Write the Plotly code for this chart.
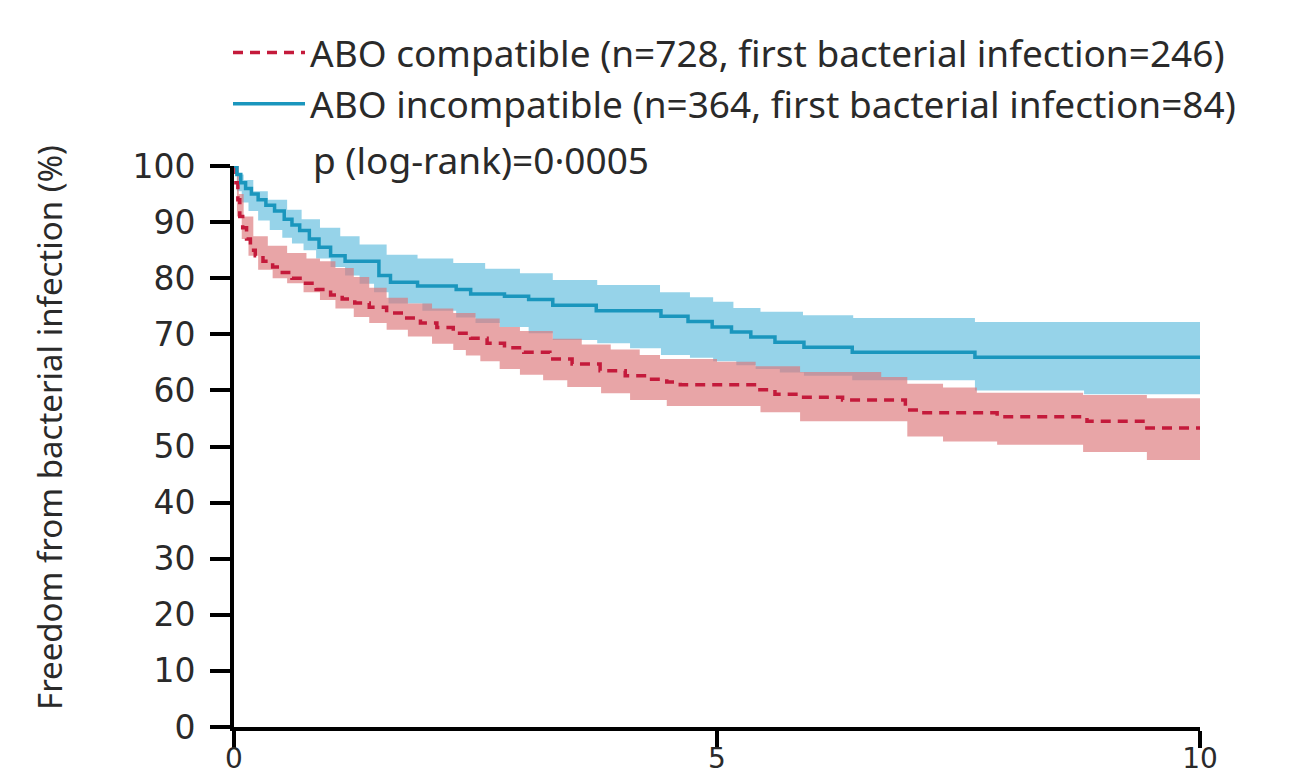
import plotly.graph_objects as go

# ABO incompatible (solid teal) Kaplan-Meier estimate and 95% CI
inc_t = [0, 0.03, 0.07, 0.12, 0.18, 0.25, 0.33, 0.42, 0.52, 0.6, 0.68, 0.78, 0.88, 1.0, 1.15,
         1.5, 1.62, 1.9, 2.3, 2.45, 2.8, 3.05, 3.3, 3.75, 4.42, 4.7, 4.95, 5.15, 5.35, 5.6, 5.9,
         6.4, 7.67, 10]
inc_v = [100, 98.5, 97, 96, 95, 94, 93, 92, 90.5, 89.5, 88.5, 87, 85.5, 84, 83, 80.5, 79.3,
         78.6, 78, 77.2, 76.8, 76.2, 75.2, 74.2, 73.2, 72.3, 71.3, 70.4, 69.5, 68.6, 67.7, 66.8,
         65.9, 65.9]
inc_up_t = [0, 0.05, 0.1, 0.2, 0.35, 0.55, 0.7, 0.89, 1.1, 1.3, 1.58, 1.9, 2.27, 2.6, 2.96,
            3.3, 3.76, 4.41, 4.72, 4.96, 5.17, 5.45, 5.89, 6.41, 7.67, 10]
inc_up_v = [100, 98.5, 97.5, 95.5, 94, 92.2, 90.5, 89, 87.5, 86, 84.2, 83.5, 82.7, 81.7, 80.9,
            79.7, 78.8, 77.5, 76.6, 75.8, 74.7, 74, 73.4, 72.9, 72.2, 72.2]
inc_lo_t = [0, 0.03, 0.08, 0.15, 0.25, 0.37, 0.5, 0.6, 0.72, 0.85, 1.0, 1.15, 1.3, 1.45, 1.6,
            1.95, 2.3, 2.5, 2.75, 3.05, 3.3, 3.76, 4.1, 4.42, 4.72, 4.96, 5.2, 5.4, 5.65, 5.9,
            6.4, 7.67, 8.8, 10]
inc_lo_v = [100, 95.5, 93.5, 92, 90.3, 88.6, 87.2, 86.2, 85, 83.5, 82, 80.5, 79, 77.5, 75.5,
            74.2, 73, 72, 71.3, 70.2, 69, 68.4, 67.5, 66.3, 65.8, 65.2, 64.5, 63.8, 63.2, 62.6,
            61.8, 60.0, 59.3, 59.3]

# ABO compatible (dashed red) Kaplan-Meier estimate and 95% CI
com_t = [0, 0.02, 0.04, 0.06, 0.09, 0.13, 0.17, 0.22, 0.3, 0.4, 0.5, 0.6, 0.72, 0.85, 1.0,
         1.12, 1.25, 1.4, 1.58, 1.75, 1.93, 2.1, 2.27, 2.45, 2.62, 2.8, 3.0, 3.27, 3.5, 3.79,
         4.05, 4.3, 4.48, 4.62, 5.42, 5.6, 5.86, 6.3, 6.95, 7.1, 7.9, 8.83, 9.45, 10]
com_v = [100, 97, 94, 91, 89, 87, 85, 84, 83, 82, 81, 80, 79.1, 78, 77, 76.3, 75.6, 74.8,
         73.8, 72.9, 72, 71.2, 70.2, 69.3, 68.4, 67.6, 66.8, 65.6, 64.7, 63.5, 62.6, 62, 61.5,
         61, 60.1, 59.3, 58.8, 58.3, 56.5, 56, 55.3, 54.5, 53.3, 53.3]
com_up_t = [0, 0.05, 0.1, 0.2, 0.35, 0.55, 0.75, 0.89, 1.05, 1.24, 1.4, 1.58, 1.8, 2.05, 2.27,
            2.5, 2.75, 2.96, 3.3, 3.6, 3.9, 4.2, 4.41, 5.0, 5.4, 5.86, 6.7, 6.97, 7.34, 7.69,
            8.79, 9.45, 10]
com_up_v = [100, 95, 91, 87.5, 85.8, 84.5, 83.5, 83, 81.8, 80.2, 78.3, 76.5, 75.5, 74.6, 73.8,
            72.8, 71.3, 70.6, 69.2, 68.2, 67.3, 66.3, 65.6, 65.1, 64.3, 63.3, 62.4, 61.2, 60.5,
            59.6, 59.2, 58.6, 58.6]
com_lo_t = [0, 0.03, 0.08, 0.15, 0.25, 0.4, 0.55, 0.72, 0.89, 1.05, 1.24, 1.4, 1.58, 1.8,
            2.05, 2.27, 2.4, 2.55, 2.75, 2.96, 3.2, 3.45, 3.8, 4.1, 4.48, 5.45, 5.86, 6.97, 7.34,
            7.9, 8.79, 9.45, 10]
com_lo_v = [100, 91, 87, 84, 81.5, 80, 79.1, 77.5, 76.1, 74.6, 73.1, 72, 70.8, 69.6, 68.3,
            67.2, 66.2, 65.2, 63.8, 62.8, 61.8, 60.6, 59.5, 58.3, 57.2, 56.1, 54.5, 51.8, 50.9,
            50.3, 49, 47.6, 47.6]

x_ticks = [0, 5, 10]
y_ticks = [0, 10, 20, 30, 40, 50, 60, 70, 80, 90, 100]

label_com = "ABO compatible (n=728, first bacterial infection=246)"
label_inc = "ABO incompatible (n=364, first bacterial infection=84)"
p_text = "p (log-rank)=0\u00b70005"
y_title = "Freedom from bacterial infection (%)"

TEAL = "#1A96BD"
BLUE_FILL = "#96D3E9"
RED = "#C41A3B"
RED_FILL = "rgba(220,118,122,0.66)"
TXT = "#2a2a2a"

fig = go.Figure()
# CI bands
fig.add_trace(go.Scatter(x=inc_up_t, y=inc_up_v, mode="lines", line=dict(width=0, shape="hv"),
                         showlegend=False, hoverinfo="skip"))
fig.add_trace(go.Scatter(x=inc_lo_t, y=inc_lo_v, mode="lines", line=dict(width=0, shape="hv"),
                         fill="tonexty", fillcolor=BLUE_FILL, showlegend=False, hoverinfo="skip"))
fig.add_trace(go.Scatter(x=com_up_t, y=com_up_v, mode="lines", line=dict(width=0, shape="hv"),
                         showlegend=False, hoverinfo="skip"))
fig.add_trace(go.Scatter(x=com_lo_t, y=com_lo_v, mode="lines", line=dict(width=0, shape="hv"),
                         fill="tonexty", fillcolor=RED_FILL, showlegend=False, hoverinfo="skip"))
# KM lines
fig.add_trace(go.Scatter(x=com_t, y=com_v, mode="lines", name=label_com,
                         line=dict(color=RED, width=3.5, dash="10px,7px", shape="hv")))
fig.add_trace(go.Scatter(x=inc_t, y=inc_v, mode="lines", name=label_inc,
                         line=dict(color=TEAL, width=3.5, shape="hv")))

fig.add_annotation(text=p_text, xref="paper", yref="paper", x=(311 - 234) / 966,
                   y=(727 - 160) / 561, xanchor="left", yanchor="middle", showarrow=False,
                   font=dict(family="Noto Sans", size=37, color=TXT))
fig.add_annotation(text=y_title, xref="paper", yref="paper", x=(49 - 234) / 966,
                   y=(727 - 428) / 561, xanchor="center", yanchor="middle", showarrow=False,
                   textangle=-90, font=dict(family="Noto Sans", size=33, color=TXT))

fig.update_layout(
    width=1301, height=781,
    margin=dict(l=234, r=101, t=166, b=54),
    paper_bgcolor="white", plot_bgcolor="white",
    showlegend=True,
    legend=dict(x=(228 - 234) / 966, y=(727 - 22) / 561, xanchor="left", yanchor="top",
                itemwidth=72, traceorder="normal", bgcolor="rgba(0,0,0,0)",
                font=dict(family="Noto Sans", size=37, color=TXT)),
    xaxis=dict(range=[0, 10], tickvals=x_ticks, showgrid=False, zeroline=False,
               showline=True, linecolor="black", linewidth=4, ticks="outside",
               ticklen=17, tickwidth=4, tickcolor="black", automargin=False,
               ticklabelstandoff=-14,
               tickfont=dict(family="DejaVu Sans", size=28, color=TXT)),
    yaxis=dict(range=[0, 100], tickvals=y_ticks, showgrid=False, zeroline=False,
               showline=True, linecolor="black", linewidth=4, ticks="outside",
               ticklen=20, tickwidth=4, tickcolor="black", ticklabelstandoff=8,
               automargin=False,
               tickfont=dict(family="DejaVu Sans", size=33, color=TXT)),
)

fig.write_html("out.html")
